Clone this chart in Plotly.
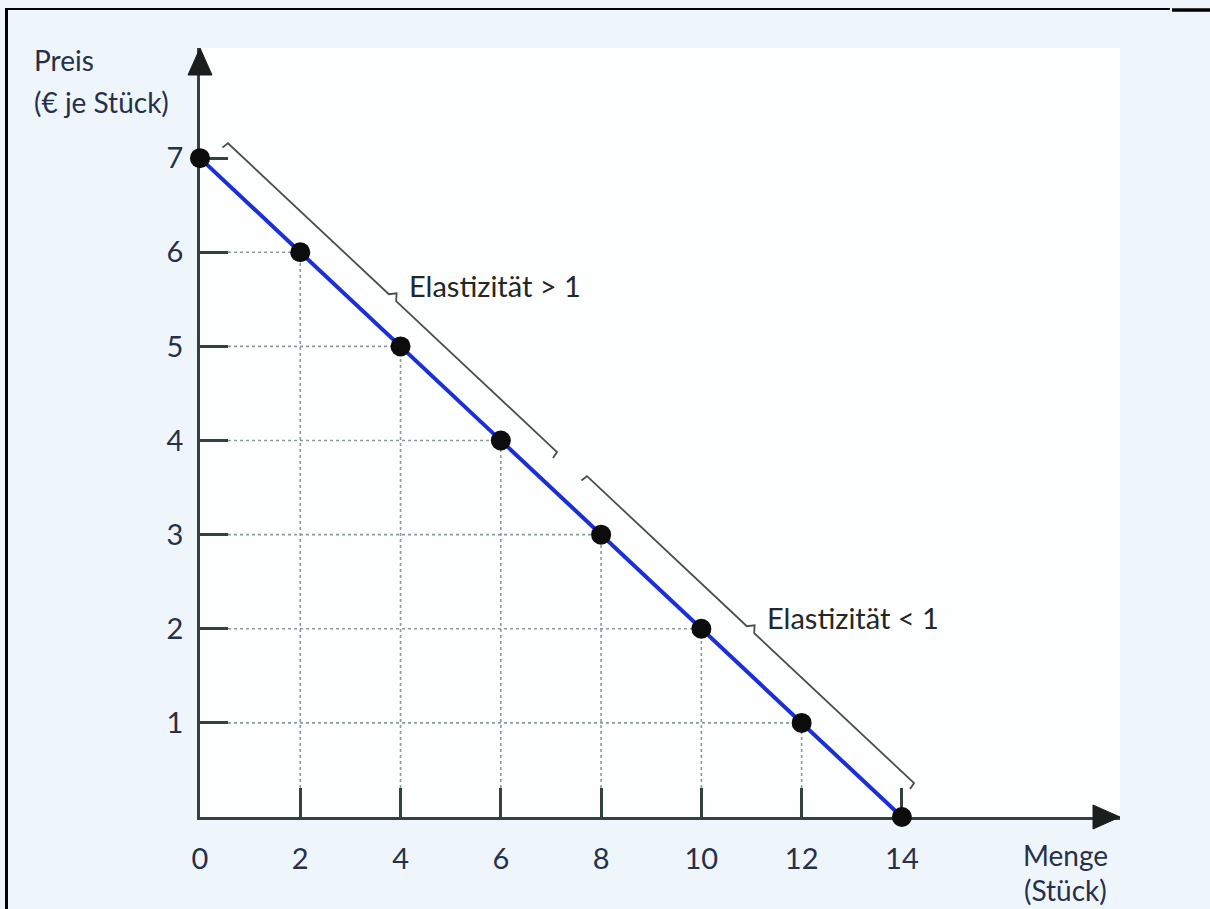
import numpy as np
import plotly.graph_objects as go

# Nachfragekurve: Menge (Stück) und Preis (€ je Stück)
menge = [0, 2, 4, 6, 8, 10, 12, 14]
preis = [7, 6, 5, 4, 3, 2, 1, 0]

x_ticks = [0, 2, 4, 6, 8, 10, 12, 14]
y_ticks = [1, 2, 3, 4, 5, 6, 7]

# Klammern entlang der Kurve: (Menge von, Menge bis, Beschriftung)
klammern = [
    (0.09, 6.77, "Elastizität > 1"),
    (7.21, 13.85, "Elastizität < 1"),
]

W, H = 1210, 909
ML, MR, MT, MB = 200, 90, 48, 92
X_MAX, Y_MAX = 18.35, 8.17
PW, PH = W - ML - MR, H - MT - MB
SX, SY = PW / X_MAX, PH / Y_MAX   # Pixel je Einheit
XTICK_LEN, YTICK_LEN = 29, 28

AXIS_COL = "#34423f"
TEXT_COL = "#26304c"
FONT = "Lato"


def to_px(q, p):
    return ML + q * SX, MT + PH - p * SY


def to_data(px, py):
    return (px - ML) / SX, (MT + PH - py) / SY


def paper(px, py):
    return (px - ML) / PW, (MT + PH - py) / PH


fig = go.Figure()

# gepunktete Hilfslinien zu den Achsen (beginnen hinter den Tickstrichen)
hx0 = YTICK_LEN / SX
vy0 = XTICK_LEN / SY
for q, p in zip(menge, preis):
    if p > 0 and q > 0:
        fig.add_trace(go.Scatter(x=[hx0, q], y=[p, p], mode="lines",
                                 line=dict(color="#8d9a9a", width=1.6, dash="dot"),
                                 hoverinfo="skip", showlegend=False))
        fig.add_trace(go.Scatter(x=[q, q], y=[vy0, p], mode="lines",
                                 line=dict(color="#8d9a9a", width=1.6, dash="dot"),
                                 hoverinfo="skip", showlegend=False))

# Klammern parallel zur Kurve
qs = np.array(menge, dtype=float)
ps = np.array(preis, dtype=float)
for i, (q0, q1, label) in enumerate(klammern):
    off = 30 if i == 0 else 33
    x0, y0 = to_px(q0, np.interp(q0, qs, ps))
    x1, y1 = to_px(q1, np.interp(q1, qs, ps))
    d = np.array([x1 - x0, y1 - y0])
    L = np.hypot(*d)
    t = d / L
    n = np.array([t[1], -t[0]])        # nach rechts oben
    a = np.array([x0, y0]) + n * off
    b = np.array([x1, y1]) + n * off
    m = (a + b) / 2
    pts = [
        a - n * 7 + t * 3,
        a + t * 4,
        m - t * 5,
        m + n * 6,
        m + t * 5,
        b - t * 4,
        b - n * 7 - t * 3,
    ]
    bx, by = zip(*[to_data(*pt) for pt in pts])
    fig.add_trace(go.Scatter(x=bx, y=by, mode="lines",
                             line=dict(color="#4a4f4c", width=1.8),
                             cliponaxis=False, hoverinfo="skip", showlegend=False))
    lx, ly = to_data(m[0] + 14, m[1] - 12)
    fig.add_annotation(x=lx, y=ly, xref="x", yref="y", text=label,
                       showarrow=False, xanchor="left", yanchor="middle",
                       font=dict(family=FONT, size=29, color="#222826"))

# Nachfragekurve mit Punkten
fig.add_trace(go.Scatter(x=menge, y=preis, mode="lines+markers",
                         line=dict(color="#1a2fd6", width=4),
                         marker=dict(color="#0c0c0c", size=20),
                         cliponaxis=False, showlegend=False))

# Pfeilspitzen der Achsen (Papierkoordinaten, damit nichts abgeschnitten wird)
t_x, t_y = paper(ML, MT)
l_x, b_y = paper(ML - 12, MT + 27)
r_x, _ = paper(ML + 12, MT + 27)
fig.add_shape(type="path", xref="paper", yref="paper", layer="above",
              path=f"M {l_x},{b_y} L {t_x},{t_y} L {r_x},{b_y} Z",
              fillcolor="#1a1f1e", line=dict(color="#1a1f1e", width=1))
t_x, t_y = paper(ML + PW, MT + PH)
b_x, u_y = paper(ML + PW - 27, MT + PH - 12)
_, d_y = paper(ML + PW - 27, MT + PH + 12)
fig.add_shape(type="path", xref="paper", yref="paper", layer="above",
              path=f"M {b_x},{u_y} L {t_x},{t_y} L {b_x},{d_y} Z",
              fillcolor="#1a1f1e", line=dict(color="#1a1f1e", width=1))

# Achsentitel
for txt, px, py in [("Preis", 32, 60), ("(€ je Stück)", 32, 102)]:
    ux, uy = paper(px, py)
    fig.add_annotation(x=ux, y=uy, xref="paper", yref="paper", text=txt,
                       showarrow=False, xanchor="left", yanchor="middle",
                       font=dict(family=FONT, size=28, color=TEXT_COL))
for txt, px, py in [("Menge", 1065, 855), ("(Stück)", 1065, 890)]:
    ux, uy = paper(px, py)
    fig.add_annotation(x=ux, y=uy, xref="paper", yref="paper", text=txt,
                       showarrow=False, xanchor="center", yanchor="middle",
                       font=dict(family=FONT, size=28, color=TEXT_COL))

# Rahmen
for (xa, ya, xb, yb, w) in [(5, 9, 1170, 9, 2), (1172, 10, 1210, 10, 3.5),
                             (6.5, 9, 6.5, 909, 3)]:
    p0 = paper(xa, ya)
    p1 = paper(xb, yb)
    fig.add_shape(type="line", xref="paper", yref="paper",
                  x0=p0[0], y0=p0[1], x1=p1[0], y1=p1[1],
                  line=dict(color="#000000", width=w))

fig.update_xaxes(range=[0, X_MAX], tickvals=x_ticks,
                 ticktext=[str(v) for v in x_ticks],
                 showgrid=False, zeroline=False, showline=True,
                 linecolor=AXIS_COL, linewidth=2.5, layer="below traces",
                 ticks="inside", ticklen=XTICK_LEN, tickwidth=2.5, tickcolor=AXIS_COL,
                 ticklabelstandoff=14,
                 tickfont=dict(family=FONT, size=29, color=TEXT_COL),
                 fixedrange=True)
fig.update_yaxes(range=[0, Y_MAX], tickvals=y_ticks,
                 ticktext=[str(v) for v in y_ticks],
                 showgrid=False, zeroline=False, showline=True,
                 linecolor=AXIS_COL, linewidth=2.5, layer="below traces",
                 ticks="inside", ticklen=YTICK_LEN, tickwidth=2.5, tickcolor=AXIS_COL,
                 ticklabelstandoff=8,
                 tickfont=dict(family=FONT, size=29, color=TEXT_COL),
                 fixedrange=True)

fig.update_layout(width=W, height=H,
                  margin=dict(l=ML, r=MR, t=MT, b=MB, pad=0),
                  paper_bgcolor="#eef6fb", plot_bgcolor="#fdfefe",
                  showlegend=False)

fig.write_html("out.html", config={"displayModeBar": False})
